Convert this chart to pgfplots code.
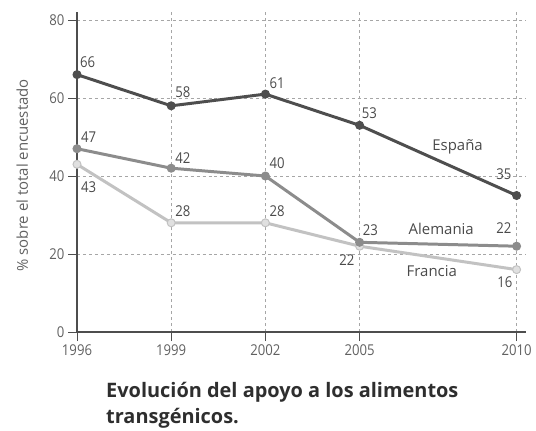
\documentclass[border=0pt]{standalone}
\usepackage{pgfplots}
\pgfplotsset{compat=1.18}
\usepackage{fontspec}
\setmainfont{Open Sans}
\newfontfamily\condfont[FakeStretch=0.88]{Open Sans}
\definecolor{esp}{HTML}{4E4E4E}
\definecolor{ale}{HTML}{8C8C8C}
\definecolor{fra}{HTML}{C2C2C2}
\definecolor{txt}{HTML}{4A4A4A}
\definecolor{tck}{HTML}{606060}
\begin{document}
\begin{tikzpicture}[x=1bp,y=1bp]
\useasboundingbox (0,0) rectangle (536,430);
\begin{axis}[
  at={(77bp,98bp)}, anchor=south west,
  scale only axis, width=449bp, height=319.8bp,
  xmin=1996, xmax=2010.3, ymin=0, ymax=82,
  axis lines*=left,
  axis line style={color=esp, line width=1.1pt},
  xtick={1996,1999,2002,2005,2010},
  xticklabels={1996,1999,2002,2005,2010},
  ytick={0,20,40,60,80},
  tick align=outside, major tick length=9bp,
  tick style={color=esp, line width=0.9pt},
  /pgf/number format/assume math mode=true,
  ticklabel style={font=\condfont\fontsize{15}{15}\selectfont, text=tck},
  grid=major,
  major grid style={color=gray!70, dash pattern=on 3pt off 3pt, line width=0.6pt},
  ylabel={\% sobre el total encuestado},
  ylabel style={at={(axis description cs:-0.122,0.49)}, anchor=center, font=\fontsize{15}{15}\selectfont, text=tck},
  clip=false,
  every axis plot/.append style={line width=3pt, mark=*, mark size=4bp},
]
\addplot[color=fra, mark options={fill=fra!50, draw=fra, line width=1pt}] coordinates {(1996,43) (1999,28) (2002,28) (2005,22) (2010,16)};
\addplot[color=ale, mark options={fill=ale, draw=ale, line width=1pt}] coordinates {(1996,47) (1999,42) (2002,40) (2005,23) (2010,22)};
\addplot[color=esp, mark options={fill=esp, draw=esp, line width=1pt}] coordinates {(1996,66) (1999,58) (2002,61) (2005,53) (2010,35)};
\begin{scope}[every node/.style={font=\condfont\fontsize{15}{15}\selectfont, text=txt, inner sep=0pt}]
\node[anchor=base west, xshift=3bp, yshift=7bp] at (axis cs:1996,66) {66};
\node[anchor=base west, xshift=4bp, yshift=8bp] at (axis cs:1999,58) {58};
\node[anchor=base west, xshift=4bp, yshift=6bp] at (axis cs:2002,61) {61};
\node[anchor=base west, xshift=2bp, yshift=7bp] at (axis cs:2005,53) {53};
\node[anchor=base east, xshift=-5bp, yshift=16bp] at (axis cs:2010,35) {35};
\node[anchor=base west, xshift=4bp, yshift=6bp] at (axis cs:1996,47) {47};
\node[anchor=base west, xshift=4bp, yshift=5bp] at (axis cs:1999,42) {42};
\node[anchor=base west, xshift=4bp, yshift=8bp] at (axis cs:2002,40) {40};
\node[anchor=base west, xshift=3bp, yshift=7bp] at (axis cs:2005,23) {23};
\node[anchor=base east, xshift=-5bp, yshift=13bp] at (axis cs:2010,22) {22};
\node[anchor=base west, xshift=4bp, yshift=-28bp] at (axis cs:1996,43) {43};
\node[anchor=base west, xshift=4bp, yshift=6bp] at (axis cs:1999,28) {28};
\node[anchor=base west, xshift=4bp, yshift=6bp] at (axis cs:2002,28) {28};
\node[anchor=base east, xshift=-5bp, yshift=-19bp] at (axis cs:2005,22) {22};
\node[anchor=base east, xshift=-4bp, yshift=-18bp] at (axis cs:2010,16) {16};
\end{scope}
\begin{scope}[every node/.style={font=\fontsize{15}{15}\selectfont, text=txt}]
\node at (axis cs:2008.12,47.4) {España};
\node at (axis cs:2007.6,26.4) {Alemania};
\node at (axis cs:2007.3,15.6) {Francia};
\end{scope}
\end{axis}
\begin{scope}[every node/.style={anchor=base west, font=\bfseries\fontsize{20}{20}\selectfont, text=black!82, inner sep=0pt}]
\node at (106,33) {Evolución del apoyo a los alimentos};
\node at (106,7) {transgénicos.};
\end{scope}
\end{tikzpicture}
\end{document}
